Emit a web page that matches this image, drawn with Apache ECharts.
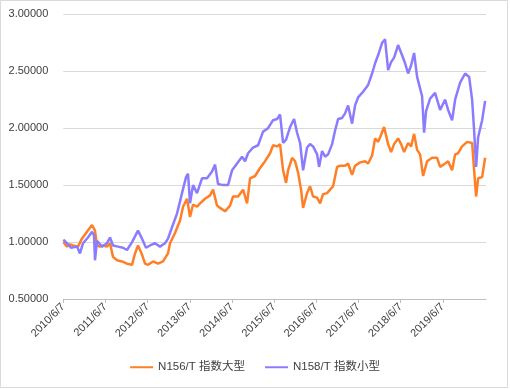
<!DOCTYPE html>
<html>
<head>
<meta charset="utf-8">
<script src="https://cdn.jsdelivr.net/npm/echarts@6/dist/echarts.min.js"></script>
<style>
html,body{margin:0;padding:0;background:#fff;}
#chart{width:510px;height:389px;}
</style>
</head>
<body>
<div id="chart"></div>
<script>
// x positions: months since 2010/6/7
const seriesNames = ['N156/T 指数大型', 'N158/T 指数小型'];
const xTickLabels = ['2010/6/7','2011/6/7','2012/6/7','2013/6/7','2014/6/7','2015/6/7','2016/6/7','2017/6/7','2018/6/7','2019/6/7'];

const orangeMonths = [0,1.05,1.91,2.76,4.18,5.30,6.74,8.17,9.02,9.59,10.45,11.30,12.44,13.29,14.15,15.29,16.71,18.13,19.56,20.41,21.26,22.40,23.26,24.11,25.53,26.96,28.38,29.80,30.37,31.80,33.22,34.08,35.22,36.07,36.92,38.06,38.92,40.34,41.76,42.62,43.76,44.61,46.03,47.46,48.31,49.74,51.16,52.30,53.15,54.58,56.00,57.42,58.85,59.70,60.84,61.69,62.55,63.40,63.97,65.11,65.96,66.82,67.67,68.24,69.38,70.23,71.09,72.23,73.08,73.93,75.07,75.93,76.78,77.92,78.77,80.20,81.05,82.19,83.04,84.47,85.89,86.75,87.88,88.74,89.59,90.16,91.30,92.44,93.29,94.14,95.28,96.14,96.99,98.13,98.98,99.84,100.69,101.54,102.40,103.54,104.96,106.38,107.24,108.66,109.52,110.65,111.51,112.36,113.50,114.93,116.35,116.92,117.49,118.06,119.20,120.05];
const orangeValues = [1.00,0.96,0.98,0.97,0.96,1.03,1.09,1.15,1.10,0.97,0.96,0.97,0.96,0.99,0.87,0.84,0.83,0.81,0.80,0.90,0.97,0.89,0.81,0.80,0.83,0.81,0.83,0.90,0.99,1.08,1.19,1.31,1.38,1.22,1.33,1.31,1.34,1.38,1.41,1.46,1.32,1.30,1.27,1.32,1.40,1.40,1.46,1.34,1.56,1.58,1.65,1.71,1.78,1.85,1.84,1.86,1.63,1.52,1.63,1.74,1.71,1.61,1.46,1.30,1.43,1.49,1.40,1.39,1.34,1.42,1.43,1.46,1.49,1.66,1.67,1.67,1.69,1.59,1.67,1.70,1.71,1.69,1.76,1.91,1.88,1.92,2.01,1.86,1.79,1.86,1.91,1.86,1.79,1.87,1.84,1.95,1.81,1.77,1.58,1.71,1.74,1.74,1.66,1.69,1.71,1.63,1.77,1.78,1.84,1.88,1.87,1.63,1.40,1.56,1.57,1.74];

const purpleMonths = [0,1.05,2.19,3.90,4.75,5.61,7.03,8.17,8.74,9.02,9.59,11.02,12.44,13.29,14.15,15.57,16.99,18.13,19.56,20.41,21.26,22.40,23.54,24.68,26.10,27.52,28.95,29.80,30.94,32.36,33.79,34.93,35.50,36.07,36.92,38.06,39.48,40.91,42.33,43.19,44.04,45.46,46.89,48.02,49.45,50.87,51.73,52.58,54.00,55.43,56.85,58.27,59.70,60.84,61.69,62.55,63.40,64.54,65.68,66.53,67.39,68.24,69.38,70.23,71.09,72.23,72.80,73.65,74.50,75.36,76.50,77.35,78.21,79.35,80.20,81.05,82.19,83.04,83.90,85.32,86.75,87.88,88.74,89.59,90.73,91.58,92.44,93.29,94.14,95.28,96.42,97.27,98.13,98.98,99.84,100.69,101.54,102.11,102.68,103.25,104.39,105.81,107.24,108.66,109.52,110.65,111.51,112.93,114.36,115.50,116.35,116.92,117.49,118.06,119.20,120.05];
const purpleValues = [1.02,0.99,0.95,0.96,0.90,0.99,1.04,1.09,1.06,0.84,1.01,0.96,0.99,1.04,0.97,0.96,0.95,0.93,1.00,1.05,1.10,1.03,0.95,0.97,0.99,0.96,0.99,1.03,1.13,1.25,1.43,1.57,1.60,1.34,1.50,1.43,1.56,1.56,1.62,1.68,1.51,1.50,1.50,1.63,1.69,1.75,1.71,1.78,1.83,1.85,1.97,2.00,2.07,2.08,2.12,1.87,1.90,2.01,2.08,1.96,1.87,1.63,1.83,1.86,1.84,1.77,1.66,1.80,1.75,1.77,1.86,1.98,2.08,2.09,2.13,2.20,2.04,2.20,2.27,2.32,2.38,2.48,2.57,2.64,2.75,2.78,2.51,2.58,2.62,2.73,2.64,2.57,2.48,2.55,2.66,2.45,2.35,2.28,1.96,2.15,2.26,2.31,2.16,2.25,2.16,2.07,2.25,2.40,2.48,2.45,2.25,1.98,1.66,1.92,2.07,2.24];

const pair = (xs, ys) => xs.map((x, i) => [x, ys[i]]);
const tickMonths = xTickLabels.map((_, i) => i * 12);

const chart = echarts.init(document.getElementById('chart'), null, {renderer: 'canvas'});
chart.setOption({
  animation: false,
  backgroundColor: '#ffffff',
  textStyle: {fontFamily: 'Liberation Sans, Noto Sans CJK SC, sans-serif'},
  graphic: [{
    type: 'rect', shape: {x: 0.5, y: 0.5, width: 507, height: 387},
    style: {fill: 'none', stroke: '#D9D9D9', lineWidth: 1}, silent: true, z: -1
  }],
  grid: {left: 63.3, right: 24, top: 14.3, bottom: 90, containLabel: false},
  legend: {
    data: seriesNames,
    bottom: 11,
    left: 'center',
    icon: 'rect',
    itemWidth: 23,
    itemHeight: 2,
    itemGap: 20,
    textStyle: {fontSize: 11.5, color: '#404040', fontFamily: 'Liberation Sans, Noto Sans CJK SC, sans-serif'}
  },
  xAxis: {
    type: 'value',
    min: 0,
    max: 120.3,
    axisLine: {show: true, lineStyle: {color: '#BFBFBF', width: 1}},
    axisTick: {show: true, customValues: tickMonths, length: 4, lineStyle: {color: '#BFBFBF'}},
    axisLabel: {
      customValues: tickMonths,
      rotate: 45,
      fontSize: 11,
      color: '#404040',
      margin: 6,
      formatter: v => xTickLabels[Math.round(v / 12)] || ''
    },
    splitLine: {show: false}
  },
  yAxis: {
    type: 'value',
    min: 0.5,
    max: 3.0,
    interval: 0.5,
    axisLine: {show: false},
    axisTick: {show: false},
    axisLabel: {fontSize: 11, color: '#404040', margin: 15, formatter: v => v.toFixed(5)},
    splitLine: {lineStyle: {color: '#D9D9D9', width: 1}}
  },
  series: [
    {name: seriesNames[0], type: 'line', data: pair(orangeMonths, orangeValues), showSymbol: false, symbol: 'none',
     lineStyle: {color: '#FF7F27', width: 2.5}, itemStyle: {color: '#FF7F27'}},
    {name: seriesNames[1], type: 'line', data: pair(purpleMonths, purpleValues), showSymbol: false, symbol: 'none',
     lineStyle: {color: '#8B7CFF', width: 2.5}, itemStyle: {color: '#8B7CFF'}}
  ]
});
</script>
</body>
</html>
